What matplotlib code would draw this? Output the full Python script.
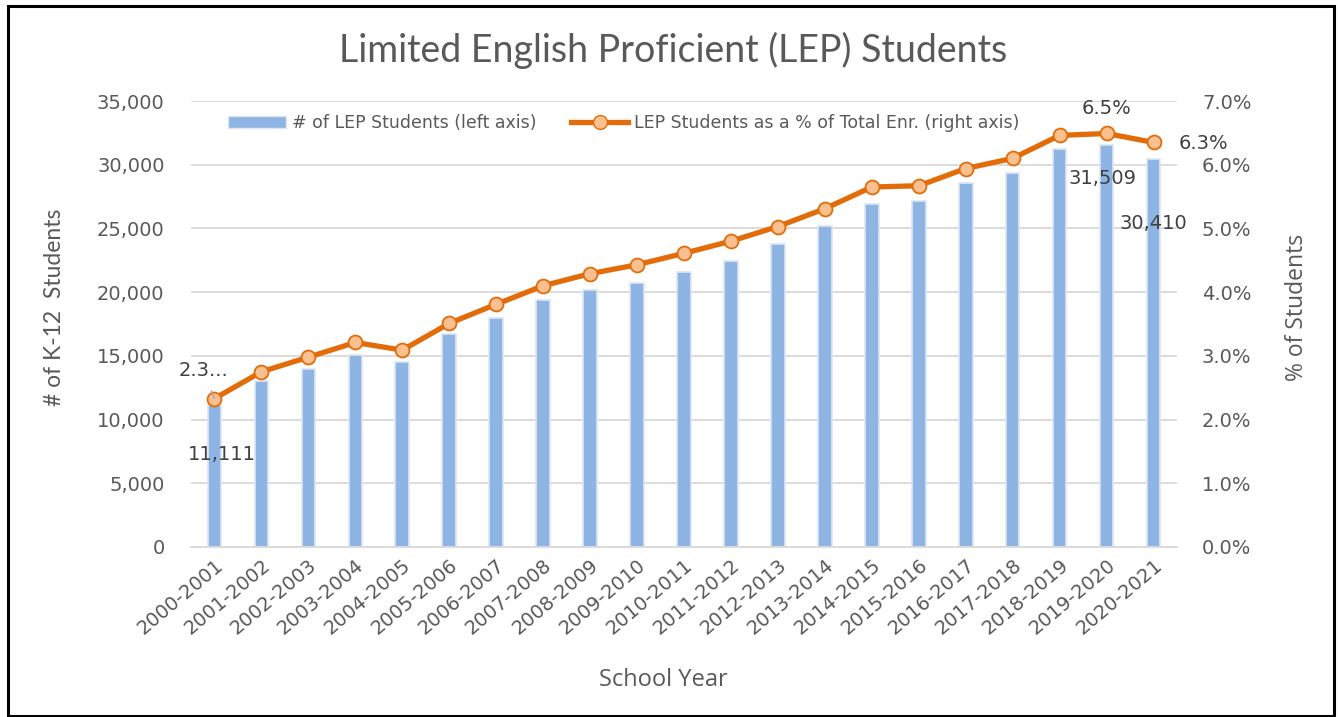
import matplotlib
matplotlib.use("Agg")
import matplotlib.pyplot as plt
from matplotlib.ticker import FuncFormatter, MultipleLocator
from matplotlib.patches import Rectangle
from matplotlib.lines import Line2D

years = ["2000-2001", "2001-2002", "2002-2003", "2003-2004", "2004-2005", "2005-2006",
         "2006-2007", "2007-2008", "2008-2009", "2009-2010", "2010-2011", "2011-2012",
         "2012-2013", "2013-2014", "2014-2015", "2015-2016", "2016-2017", "2017-2018",
         "2018-2019", "2019-2020", "2020-2021"]
lep_students = [11111, 13060, 13950, 15080, 14550, 16700, 18010, 19350, 20190, 20740,
                21580, 22470, 23780, 25220, 26950, 27190, 28580, 29360, 31200, 31509, 30410]
lep_pct = [2.33, 2.75, 2.98, 3.21, 3.09, 3.51, 3.81, 4.10, 4.29, 4.43, 4.61, 4.80, 5.03,
           5.31, 5.65, 5.67, 5.94, 6.10, 6.46, 6.49, 6.35]

TXT = "#595959"
BAR = "#8EB4E3"
BAR_EDGE = "#DCE6F2"
LINE = "#E36C09"
MFACE = "#FAC090"
GRID = "#D9D9D9"
FONT = "DejaVu Sans"

fig = plt.figure(figsize=(13.38, 7.17), dpi=100)
fig.patch.set_facecolor("white")
# outer frame
fig.add_artist(Rectangle((8 / 1338, 1 / 717), 1326 / 1338, 710 / 717, transform=fig.transFigure,
                         fill=False, edgecolor="black", linewidth=2.2))

ax = fig.add_axes([191 / 1338, 1 - 547 / 717, 986 / 1338, 446 / 717])
x = list(range(len(years)))
ax.bar(x, lep_students, width=0.29, color=BAR, edgecolor=BAR_EDGE, linewidth=1.2, zorder=2)
ax.set_xlim(-0.5, len(years) - 0.5)
ax.set_ylim(0, 35000)
ax.yaxis.set_major_locator(MultipleLocator(5000))
ax.yaxis.set_major_formatter(FuncFormatter(lambda v, p: f"{int(v):,}"))
ax.grid(axis="y", color=GRID, linewidth=1.3, zorder=0)
ax.set_axisbelow(True)
for s in ["top", "right", "left"]:
    ax.spines[s].set_visible(False)
ax.spines["bottom"].set_color(GRID)
ax.spines["bottom"].set_linewidth(1.3)
ax.tick_params(axis="both", length=0, labelcolor=TXT, labelsize=14)
ax.tick_params(axis="y", pad=19)
ax.tick_params(axis="x", pad=6)
ax.set_xticks(x)
ax.set_xticklabels(years, rotation=40, ha="right", rotation_mode="anchor", fontfamily=FONT)
for lab in ax.get_yticklabels():
    lab.set_fontfamily(FONT)
ax.set_ylabel("# of K-12  Students", fontsize=16.5, color=TXT, fontfamily="Lato", va="center")
ax.yaxis.set_label_coords((55 - 191) / 986, (547 - 307) / 446)
ax.set_xlabel("School Year", fontsize=17, color=TXT, fontfamily="Open Sans", va="center")
ax.xaxis.set_label_coords((663 - 191) / 986, -(680 - 547) / 446)

ax2 = ax.twinx()
ax2.plot(x, lep_pct, color=LINE, linewidth=3.8, marker="o", markersize=10,
         markerfacecolor=MFACE, markeredgecolor=LINE, markeredgewidth=1.3, zorder=3)
ax2.set_ylim(0, 7)
ax2.yaxis.set_major_locator(MultipleLocator(1))
ax2.yaxis.set_major_formatter(FuncFormatter(lambda v, p: f"{v:.1f}%"))
for s in ["top", "right", "left", "bottom"]:
    ax2.spines[s].set_visible(False)
ax2.tick_params(axis="y", length=0, labelcolor=TXT, labelsize=14, pad=18)
for lab in ax2.get_yticklabels():
    lab.set_fontfamily(FONT)
ax2.set_ylabel("% of Students", fontsize=16.5, color=TXT, fontfamily="Open Sans", va="center")
ax2.yaxis.set_label_coords((1297 - 191) / 986, (547 - 307) / 446)

# data labels
lab_kw = dict(color="#404040", fontsize=14, fontfamily=FONT)
ax.annotate(f"{lep_students[0]:,}", (x[0], lep_students[0]), xytext=(5, -35),
            textcoords="offset points", ha="center", va="center", **lab_kw)
ax.annotate(f"{lep_students[19]:,}", (x[19], lep_students[19]), xytext=(-3, -24),
            textcoords="offset points", ha="center", va="center", **lab_kw)
ax.annotate(f"{lep_students[20]:,}", (x[20], lep_students[20]), xytext=(0, -46),
            textcoords="offset points", ha="center", va="center", **lab_kw)
ax2.annotate("2.3...", (x[0], lep_pct[0]), xytext=(-8, 20), textcoords="offset points",
             ha="center", va="center",
             arrowprops=dict(arrowstyle="-", color="#A6A6A6", lw=1, shrinkA=6, shrinkB=0),
             **lab_kw)
ax2.annotate(f"{lep_pct[19]:.1f}%", (x[19], lep_pct[19]), xytext=(0, 18),
             textcoords="offset points", ha="center", va="center", **lab_kw)
ax2.annotate(f"{lep_pct[20]:.1f}%", (x[20], lep_pct[20]), xytext=(18, -1),
             textcoords="offset points", ha="left", va="center", **lab_kw)

# legend
handles = [Rectangle((0, 0), 1, 1, facecolor=BAR, edgecolor=BAR_EDGE),
           Line2D([0], [0], color=LINE, linewidth=3.8, marker="o", markersize=10,
                  markerfacecolor=MFACE, markeredgecolor=LINE)]
leg = ax.legend(handles, ["# of LEP Students (left axis)",
                          "LEP Students as a % of Total Enr. (right axis)"],
                loc="upper left", bbox_to_anchor=(0.022, 1.005), ncol=2, frameon=False,
                prop={"family": FONT, "size": 12.5}, labelcolor=TXT, handlelength=3.3,
                handletextpad=0.35, columnspacing=2.0)
leg.set_zorder(5)

fig.text(0.503, 1 - 50 / 717, "Limited English Proficient (LEP) Students", ha="center",
         va="center", fontsize=27, color=TXT, fontfamily="Lato")

fig.savefig("out.png", dpi=100)
